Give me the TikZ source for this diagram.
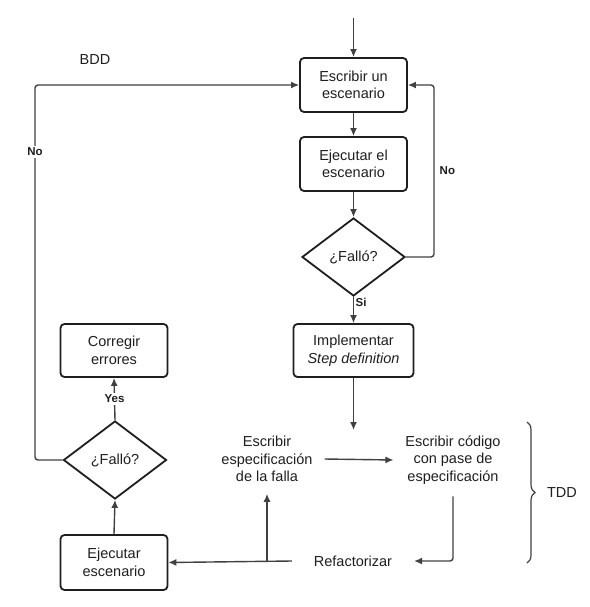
\documentclass[tikz,border=0pt]{standalone}
\usepackage{fontspec}
\setmainfont{Liberation Sans}
\usepackage{xcolor}
\usetikzlibrary{arrows.meta}
\usetikzlibrary{shapes.geometric}
\usetikzlibrary{decorations.pathreplacing, math}
\definecolor{lgray}{RGB}{64,64,64}
\definecolor{tblack}{RGB}{30,30,30}

\begin{document}
\begin{tikzpicture}[x=1pt, y=-1pt,
  font=\fontsize{14.5pt}{17.5pt}\selectfont, text=tblack,
  box/.style={draw=tblack, line width=1.8pt, rounded corners=4pt, align=center, minimum width=\W, minimum height=54pt, inner sep=2pt},
  cond/.style={draw=tblack, line width=1.8pt, diamond, aspect=1.32, minimum width=103pt, minimum height=78pt, inner sep=0pt},
  txt/.style={align=center, inner sep=2pt, outer sep=10pt},
  lbl/.style={font=\fontsize{11.5pt}{13pt}\selectfont\bfseries, inner sep=1.5pt},
  arr/.style={draw=lgray, line width=1.4pt, -{Latex[length=8pt, width=7pt]}},
  ln/.style={draw=lgray, line width=1.4pt}]

\tikzmath{
\W = 107;
}
\useasboundingbox (0,0) rectangle (589,607);

\coordinate (top) at (353.5,18);
\node[box] (s1) at (353.5,85) {Escribir un\\escenario};
\node[box] (s2) at (353.5,164) {Ejecutar el\\escenario};
\node[cond] (d1) at (353.5,257) {¿Falló?};
\node[box, minimum width=120pt, minimum height=53pt] (s3) at (353.5,350.5) {Implementar\\\textit{Step definition}};
\coordinate (s3end) at (353.5,430);

\node[txt] (t1) at (267,459) {Escribir\\especificación\\de la falla};
\node[txt] (t2) at (453,460) {Escribir código\\con pase de\\especificación};
\node[txt, outer sep=20pt] (t3) at (353,561) {Refactorizar};

\node[box, minimum height=53pt] (c1) at (114,350.5) {Corregir\\errores};
\node[cond] (d2) at (115,460) {¿Falló?};
\node[box, minimum height=55pt] (c2) at (114,562.5) {Ejecutar\\escenario};
\coordinate (lc) at (35,85);
\coordinate (rc) at (434,85);

\node (bdd) at (95,60) {BDD};
\node (tdd) at (562,493) {TDD};

\draw[arr] (top) -- (s1);
\draw[arr] (s1) -- (s2);
\draw[arr] (s2) -- (d1);
\draw[arr, rounded corners=3pt] (d1.east) -| (rc) -- (s1.east);
\node[lbl, anchor=west] (no1) at (438,171) {No};
\draw[arr] (d1.south) -- (s3.north) node[lbl, pos=0.2, right] (si) {Si};
\draw[arr] (s3.south) -- (s3end);

\draw[arr] (t1.east) -- (t2.west);
\draw[arr, rounded corners=3pt] (t2.south) |- (t3.east);
\draw[arr] (t3.west) -- (c2.east);
\draw[arr] (t1.south |- t3.west) -- (t1.south);

\draw[arr] (c2.north) -- (d2.south);
\draw[arr] (d2.north) -- (c1.south) node[lbl, midway, fill=white] (yes) {Yes};
\draw[arr, rounded corners=3pt] (d2.west) -| (lc) -- (s1.west);
\node[lbl, fill=white] (no2) at (35,152) {No};

\draw[ln, line width=1.2pt, decorate, decoration={brace, amplitude=8pt}] (527,422) -- (527,563);

\end{tikzpicture}
\end{document}
